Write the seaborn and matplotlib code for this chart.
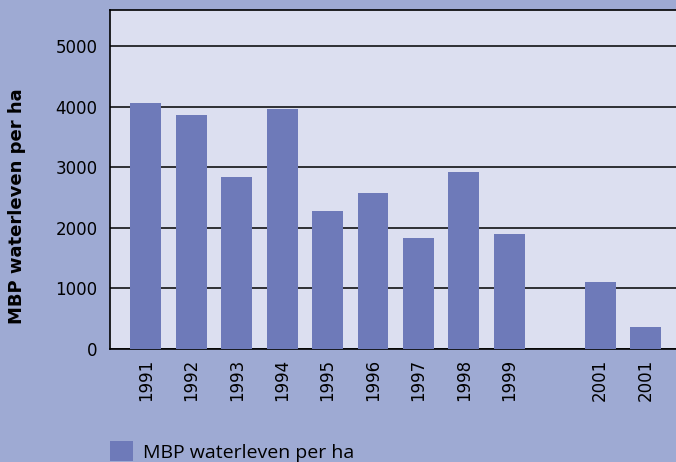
import matplotlib
matplotlib.use("Agg")
import matplotlib.pyplot as plt
from matplotlib.patches import Patch
import seaborn as sns
import pandas as pd
import numpy as np

# slot keys (one empty slot between 1999 and 2001)
slots = ["1991", "1992", "1993", "1994", "1995", "1996", "1997", "1998", "1999", "gap", "2001a", "2001b"]
tick_labels = ["1991", "1992", "1993", "1994", "1995", "1996", "1997", "1998", "1999", "", "2001", "2001"]
mbp = [4060, 3860, 2840, 3960, 2280, 2570, 1830, 2920, 1900, np.nan, 1100, 360]

outer_bg = "#9eaad3"
plot_bg = "#dcdff0"
bar_color = "#6e7ab9"

df = pd.DataFrame({"slot": slots, "mbp": mbp})

sns.set_style("white")
plt.rcParams["font.family"] = ["Open Sans", "DejaVu Sans"]
plt.rcParams["text.color"] = "black"
plt.rcParams["axes.labelcolor"] = "black"
plt.rcParams["xtick.color"] = "black"
plt.rcParams["ytick.color"] = "black"

fig = plt.figure(figsize=(6.76, 4.62), dpi=100, facecolor=outer_bg)
ax = fig.add_axes([110 / 676, 113 / 462, 566 / 676, 339 / 462])
ax.set_facecolor(plot_bg)

sns.barplot(data=df.dropna(), x="slot", y="mbp", order=slots, color=bar_color,
            saturation=1, width=0.68, linewidth=0, ax=ax, zorder=3)

ax.set_ylim(0, 5600)
ax.set_xlim(-0.79, 11.67)
ax.set_yticks([0, 1000, 2000, 3000, 4000, 5000])
ax.yaxis.grid(True, color="black", linewidth=1.1, zorder=0)
ax.set_axisbelow(True)
ax.set_xticks(range(len(slots)))
ax.set_xticklabels(tick_labels, rotation=90, fontsize=12, family="DejaVu Sans")
for lbl in ax.get_yticklabels():
    lbl.set_family("DejaVu Sans")
ax.tick_params(axis="y", labelsize=12, length=0, pad=9, labelcolor="black")
ax.tick_params(axis="x", length=0, pad=7, labelcolor="black")

for side in ["left", "top", "bottom"]:
    ax.spines[side].set_color("black")
    ax.spines[side].set_linewidth(1.2)
ax.spines["right"].set_visible(False)

ax.set_xlabel("")
ax.set_ylabel("MBP waterleven per ha", fontsize=13, fontweight="bold",
              family="DejaVu Sans", color="black")
ax.yaxis.set_label_coords(-0.148, 0.42)

handle = Patch(facecolor=bar_color, edgecolor="none")
fig.legend([handle], ["MBP waterleven per ha"], loc="lower left",
           bbox_to_anchor=(92 / 676, -17 / 462), frameon=False, fontsize=14,
           handlelength=1.2, handleheight=1.2, handletextpad=0.5,
           labelcolor="black")

fig.savefig("out.png", dpi=100, facecolor=outer_bg)
